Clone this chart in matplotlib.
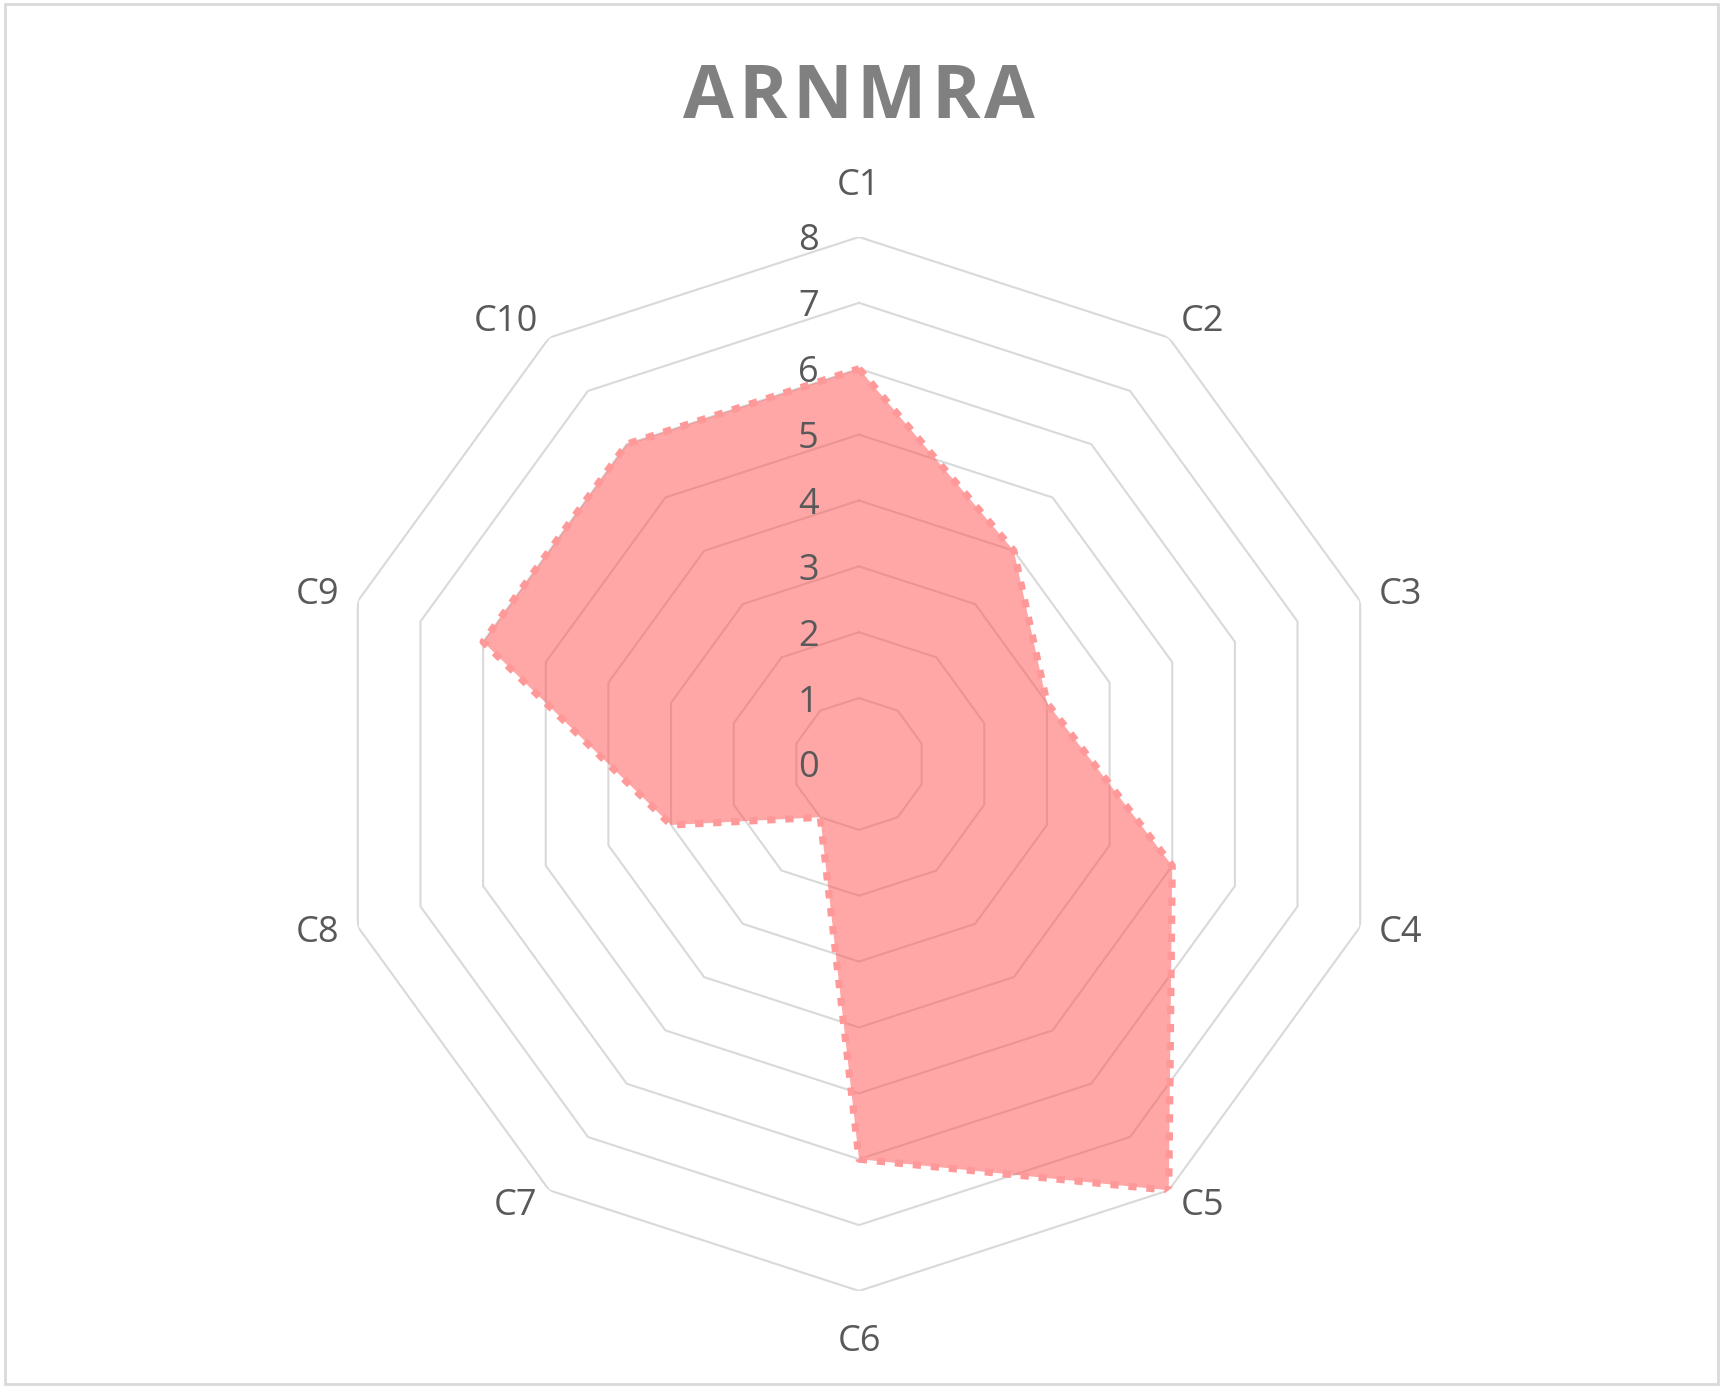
import numpy as np
import matplotlib.pyplot as plt
from matplotlib.patches import Rectangle

# data
categories = ['C1', 'C2', 'C3', 'C4', 'C5', 'C6', 'C7', 'C8', 'C9', 'C10']
values = [6, 4, 3, 5, 8, 6, 1, 3, 6, 6]
ticks = [0, 1, 2, 3, 4, 5, 6, 7, 8]
title = 'ARNMRA'

plt.rcParams['font.family'] = ['Open Sans', 'DejaVu Sans']

W, H = 1723, 1388
fig = plt.figure(figsize=(W / 100, H / 100), dpi=100)
fig.patches.append(Rectangle((0.003, 0.003), 0.994, 0.994, transform=fig.transFigure,
                             fill=False, edgecolor='#D9D9D9', linewidth=2))

ax = fig.add_axes([0.1927, 0.0699, 0.6117, 0.7594], projection='polar')
ax.set_theta_zero_location('N')
ax.set_theta_direction(-1)
ax.set_ylim(0, 8)
ax.grid(False)
ax.spines['polar'].set_visible(False)
ax.set_xticks([])
ax.set_yticks([])
ax.patch.set_alpha(0)

n = len(categories)
angles = np.linspace(0, 2 * np.pi, n, endpoint=False)
ring = np.append(angles, angles[0])

# decagon gridlines
for t in ticks[1:]:
    ax.plot(ring, [t] * (n + 1), color='#D9D9D9', linewidth=1.5, zorder=1)

# series
vals = values + values[:1]
ax.fill(ring, vals, color='#FF5050', alpha=0.5, linewidth=0, zorder=2)
ax.plot(ring, vals, color='#FF9999', linewidth=5.2, linestyle=(0, (1.15, 1.35)),
        dash_capstyle='butt', zorder=3)

# radial tick labels
for t in ticks:
    ax.annotate(str(t), xy=(0, t), xytext=(-29, 0), textcoords='offset points',
                ha='right', va='center_baseline', fontsize=26, color='#595959', zorder=4)

# category labels
for a, c in zip(angles, categories):
    s = np.sin(a)
    if abs(s) < 1e-6:
        va = 'bottom' if np.cos(a) > 0 else 'top'
        ax.text(a, 8.5, c, ha='center', va=va, fontsize=26, color='#595959')
    else:
        ha = 'left' if s > 0 else 'right'
        ax.text(a, 8.3, c, ha=ha, va='center', fontsize=26, color='#595959')

# title with letter spacing
fig.canvas.draw()
r = fig.canvas.get_renderer()
letters = []
for ch in title:
    t = fig.text(0, 0, ch, fontsize=53, fontweight='bold', color='#808080',
                 ha='left', va='baseline')
    letters.append((t, t.get_window_extent(renderer=r).width))
total = 352
gap = (total - sum(w for _, w in letters)) / (len(letters) - 1)
x = 859 - total / 2
for t, w in letters:
    t.set_position((x / W, 1 - 118 / H))
    x += w + gap

fig.savefig('out.png', dpi=100)
